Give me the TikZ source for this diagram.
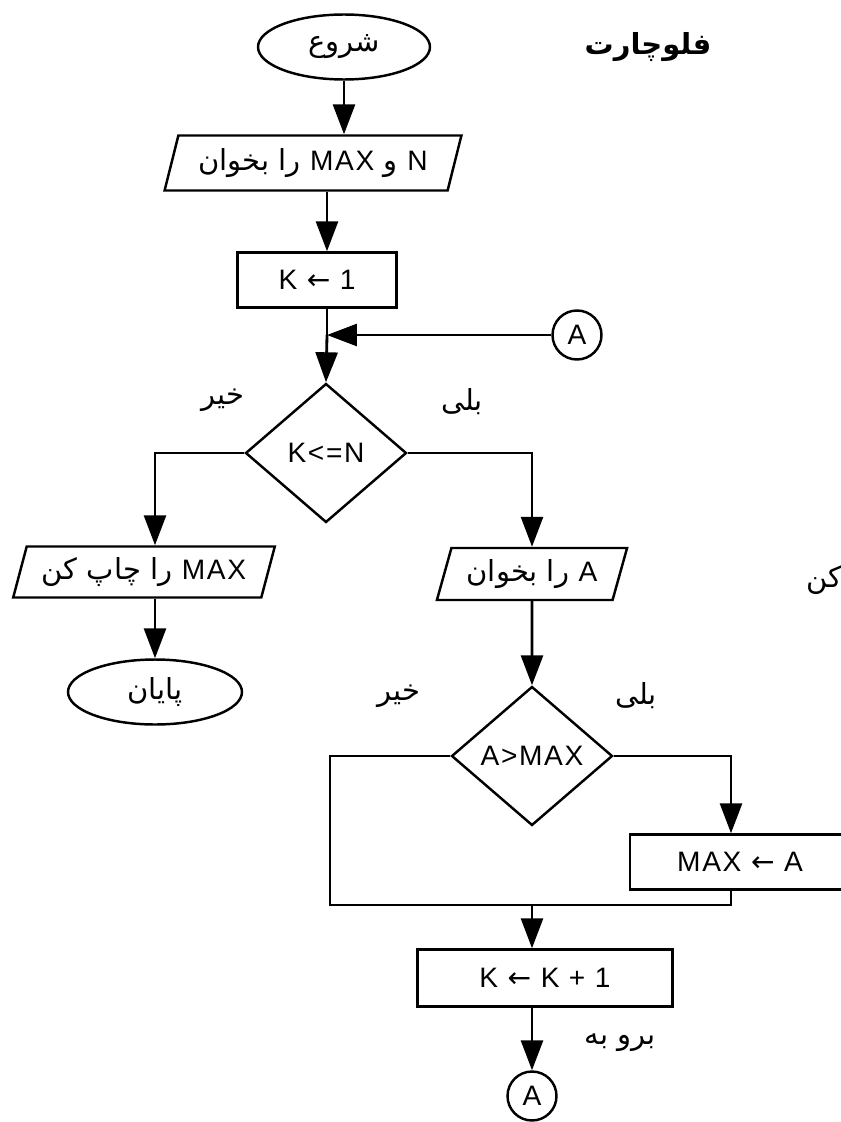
\documentclass[tikz,border=0pt]{standalone}
\usepackage{fontspec}
\setmainfont{Liberation Sans}[LetterSpace=6]
\newfontfamily\fafont[Script=Arabic]{DejaVu Sans}
\newfontfamily\symfont{DejaVu Sans}
\TeXXeTstate=1
\usetikzlibrary{arrows.meta,calc,positioning,shapes.geometric}
\newcommand{\rtl}[1]{\beginR#1\endR}
\newcommand{\fa}[1]{{\fafont\fontsize{16.5}{18}\selectfont#1}}
\newcommand{\la}{{\symfont ←}}
\tikzstyle{terminal}=[
  draw=black,
  ellipse,
  font=\fontsize{16}{18}\selectfont,
  inner sep=0pt,
  line width=1.4pt,
  minimum height=1.3cm,
  minimum width=3.44cm,
]
\tikzstyle{io}=[
  draw=black,
  trapezium,
  trapezium left angle=68,
  trapezium right angle=112,
  trapezium stretches=true,
  font=\fontsize{16}{18}\selectfont,
  inner sep=0pt,
  line width=1.4pt,
  minimum height=1.1cm,
]
\tikzstyle{process}=[
  draw=black,
  rectangle,
  font=\fontsize{16}{18}\selectfont,
  inner sep=0pt,
  line width=1.4pt,
  minimum height=1.1cm,
]
\tikzstyle{decision}=[
  draw=black,
  diamond,
  font=\fontsize{16}{18}\selectfont,
  inner sep=0pt,
  line width=1.4pt,
  minimum height=2.78cm,
  minimum width=3.22cm,
]
\tikzstyle{connector}=[
  draw=black,
  circle,
  font=\fontsize{16}{18}\selectfont,
  inner sep=0pt,
  line width=1.4pt,
  minimum size=0.98cm,
]
\tikzstyle{answer}=[
  font=\fontsize{16}{18}\selectfont,
  inner sep=0pt,
]
\tikzstyle{arrow}=[
  color=black,
  draw=black,
  line width=1.6pt,
]
\tikzset{
  >={Triangle[length=0.6cm,width=0.44cm]},
}
\begin{document}
\begin{tikzpicture}[x=0.02cm, y=-0.02cm]
      \useasboundingbox (0,0) rectangle (840,1122);
      % main column
      \node (start) [terminal] at (344,47) {\rtl{\fa{شروع}}};
      \node (title) [answer] at (648,47) {\rtl{\fa{\bfseries فلوچارت}}};
      \node (readnm) [io, minimum width=5.94cm] at (313,163) {\rtl{N \fa{و} MAX \fa{را بخوان}}};
      \node (kinit) [process, minimum width=3.18cm] at (317,280) {K \la{} 1};
      \node (conA) [connector] at (577,335) {A};
      \node (cond1) [decision] at (326,453) {K<=N};
      \node (no1) [answer] at (223,400) {\rtl{\fa{خیر}}};
      \node (yes1) [answer] at (462,402) {\rtl{\fa{بلی}}};
      % left branch
      \node (printmax) [io, minimum width=5.24cm, minimum height=1.02cm] at (144,572) {\rtl{MAX \fa{را چاپ کن}}};
      \node (stop) [terminal, minimum width=3.48cm] at (155,692) {\rtl{\fa{پایان}}};
      % right branch
      \node (readA) [io, minimum width=3.84cm, minimum height=1.04cm] at (532,574) {\rtl{A \fa{را بخوان}}};
      \node (cond2) [decision] at (532,756) {A>MAX};
      \node (no2) [answer] at (399,696) {\rtl{\fa{خیر}}};
      \node (yes2) [answer] at (636,696) {\rtl{\fa{بلی}}};
      \node (maxa) [process, minimum width=4.4cm] at (740,862) {MAX \la{} A};
      \node (kinc) [process, minimum width=5.1cm, minimum height=1.14cm] at (545,978) {K \la{} K + 1};
      \node (goto) [answer] at (620,1043) {\rtl{\fa{برو به}}};
      \node (conA2) [connector] at (532,1096) {A};
      \node (frag) [answer, anchor=west] at (806,580) {\rtl{\fa{کن}}};
      \coordinate (spine) at (327,0);
      \coordinate (join) at (327,335);
      \coordinate (nobr) at (155,0);
      \coordinate (yesbr) at (731,0);
      \coordinate (loopl) at (330,905);
      \coordinate (merge) at (532,905);
      \coordinate (loopr) at (731,905);
      \draw [->, arrow] (start.south) -- (start.south |- readnm.north);
      \draw [->, arrow] (spine |- readnm.south) -- (spine |- kinit.north);
      \draw [arrow] (spine |- kinit.south) -- (join);
      \draw [->, arrow] (conA) -- (join);
      \draw [->, arrow] (join) -- (cond1.north);
      \draw [->, arrow] (cond1.west) -| (nobr |- printmax.north);
      \draw [->, arrow] (nobr |- printmax.south) -- (stop.north);
      \draw [->, arrow] (cond1.east) -| (readA.north);
      \draw [->, arrow] (readA.south) -- (cond2.north);
      \draw [->, arrow] (cond2.east) -| (yesbr |- maxa.north);
      \draw [arrow] (cond2.west) -| (loopl) -- (loopr) -- (yesbr |- maxa.south);
      \draw [->, arrow] (merge) -- (merge |- kinc.north);
      \draw [->, arrow] (merge |- kinc.south) -- (conA2);
    \end{tikzpicture}
\end{document}
